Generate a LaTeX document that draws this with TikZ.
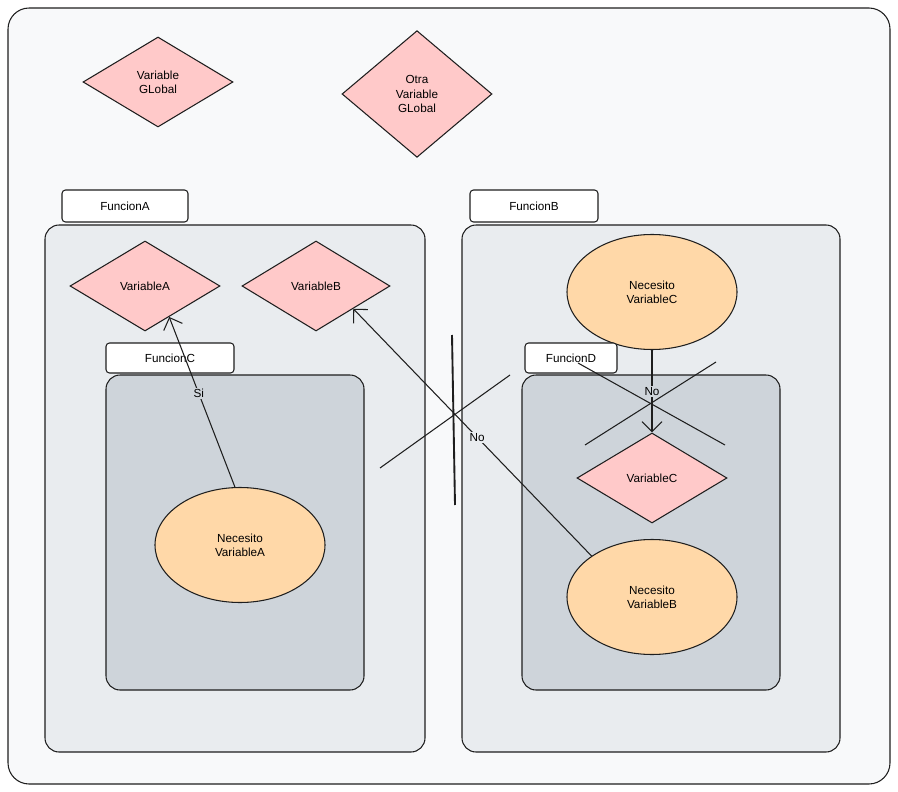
\documentclass[tikz,border=0pt]{standalone}
\usepackage{fontspec}
\setmainfont{Liberation Sans}
\usetikzlibrary{shapes.geometric,arrows.meta,positioning}
\definecolor{bgpage}{HTML}{F8F9FA}
\definecolor{boxA}{HTML}{E9ECEF}
\definecolor{boxC}{HTML}{CED4DA}
\definecolor{pinkv}{HTML}{FFC9C9}
\definecolor{orangev}{HTML}{FFD8A8}
\definecolor{ink}{HTML}{1E1E1E}
\tikzset{
    var/.style={diamond,draw=ink,fill=pinkv,line width=0.9pt,aspect=1.67,
        minimum width=4.5cm,minimum height=2.7cm,inner sep=0pt,align=center},
    need/.style={ellipse,draw=ink,fill=orangev,line width=0.9pt,
        minimum width=5.1cm,minimum height=3.45cm,align=center},
    tag/.style={draw=ink,fill=white,rounded corners=3pt,line width=0.9pt,
        inner sep=0pt},
    scopebox/.style={draw=ink,rounded corners=12pt,line width=0.9pt},
    link/.style={-{Straight Barb[length=3mm]},draw=ink,line width=0.9pt},
    stroke/.style={draw=ink,line width=0.9pt}
}
\begin{document}
\begin{tikzpicture}[x=0.03cm,y=-0.03cm]
    \useasboundingbox (0,0) rectangle (898,792);
    % page
    \draw[scopebox,fill=bgpage,rounded corners=18pt] (8,8) rectangle (890,784);

    % globals
    \node[var] (global) at (158,82) {Variable\\GLobal};
    \node[var,minimum height=3.8cm] (otra) at (417,94) {Otra\\Variable\\GLobal};

    % FuncionA
    \node[tag,minimum width=3.78cm,minimum height=0.96cm] (tagA) at (125,206) {FuncionA};
    \draw[scopebox,fill=boxA] (45,225) rectangle (425,752);
    \node[var] (varA) at (145,286) {VariableA};
    \node[var,minimum width=4.44cm] (varB) at (316,286) {VariableB};
    \node[tag,minimum width=3.84cm,minimum height=0.9cm] (tagC) at (170,358) {FuncionC};
    \draw[scopebox,fill=boxC] (106,375) rectangle (364,690);
    \node[need] (needA) at (240,545) {Necesito\\VariableA};

    % FuncionB
    \node[tag,minimum width=3.84cm,minimum height=0.96cm] (tagB) at (534,206) {FuncionB};
    \draw[scopebox,fill=boxA] (462,225) rectangle (840,752);
    \node[need] (needC) at (652,292) {Necesito\\VariableC};
    \node[tag,minimum width=2.76cm,minimum height=0.9cm] (tagD) at (571,358) {FuncionD};
    \draw[scopebox,fill=boxC] (522,375) rectangle (780,690);
    \node[var] (varC) at (652,478) {VariableC};
    \node[need] (needB) at (652,597) {Necesito\\VariableB};

    % links
    \draw[link] (needA.95) -- node[pos=0.55,fill=boxC,inner sep=1pt] {Si} (varA.-52);
    \draw[link] (needC.south) -- node[fill=boxC,inner sep=1pt] {No} (varC.north);
    \draw[link] (needB.north west) -- node[pos=0.48,fill=boxA,inner sep=1pt] {No} (varB.south east);

    % crossings
    \coordinate (cutA1) at (585,445);
    \coordinate (cutA2) at (716,362);
    \coordinate (cutB1) at (578,363);
    \coordinate (cutB2) at (725,445);
    \draw[stroke] (cutA1) -- (cutA2);
    \draw[stroke] (cutB1) -- (cutB2);
    \coordinate (wall1) at (452,335);
    \coordinate (wall2) at (455,505);
    \coordinate (slash1) at (380,468);
    \coordinate (slash2) at (510,375);
    \draw[stroke,line width=1.6pt] (wall1) -- (wall2);
    \draw[stroke] (slash1) -- (slash2);
\end{tikzpicture}
\end{document}
